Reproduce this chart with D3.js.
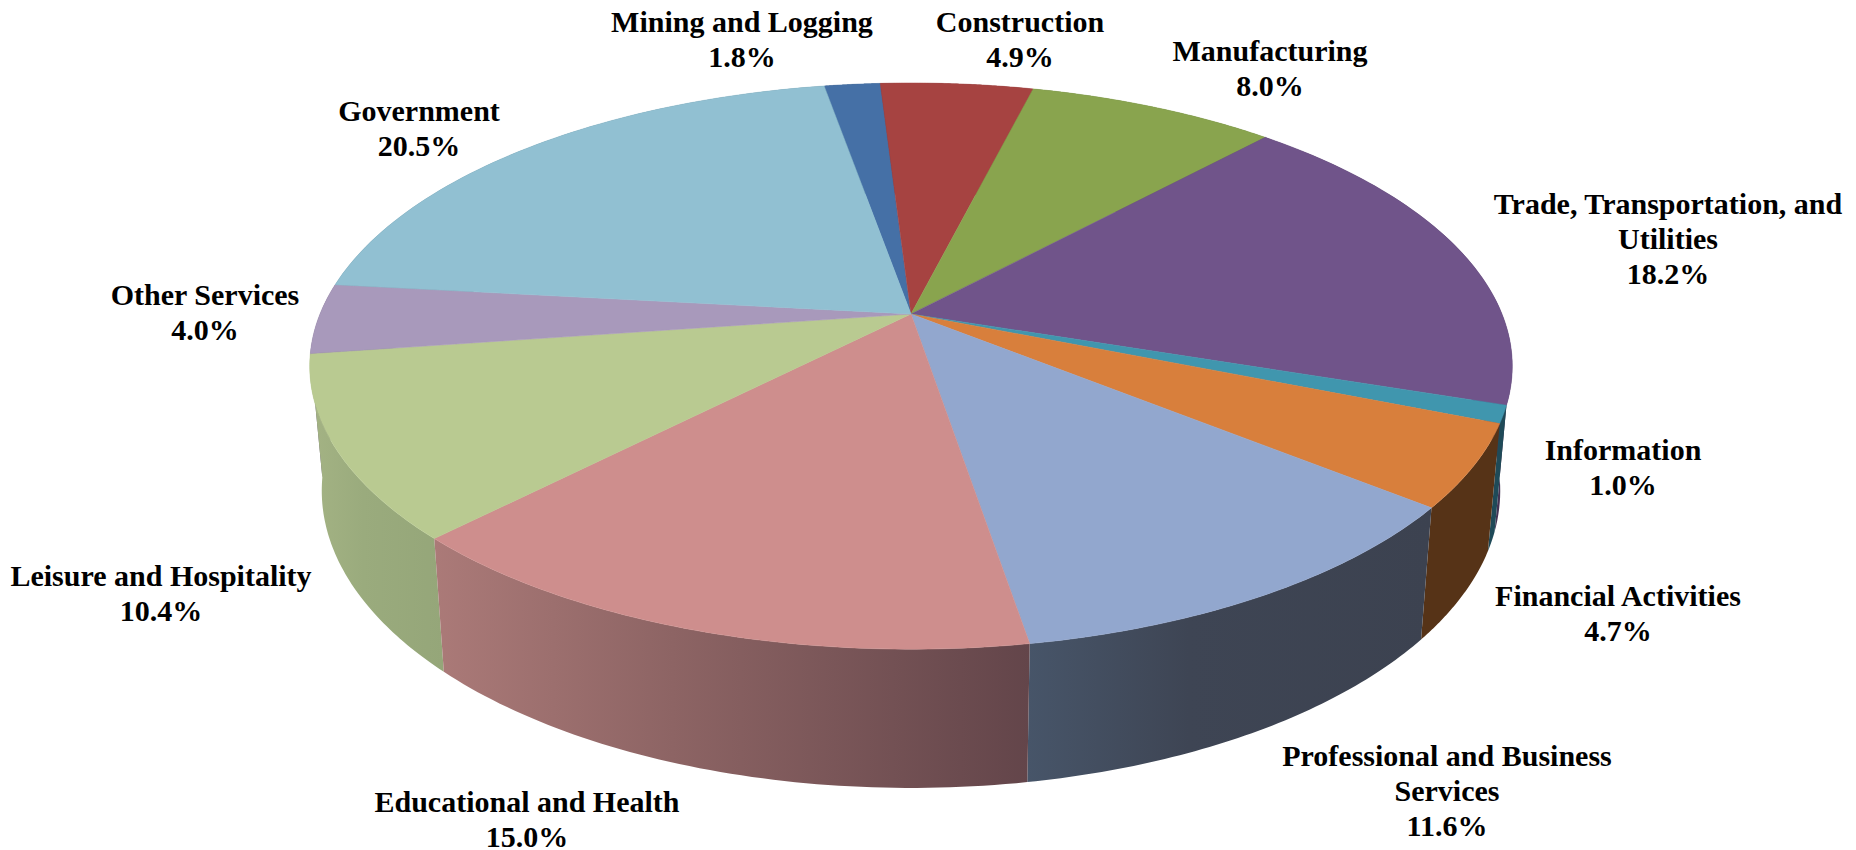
<!DOCTYPE html>
<html>
<head>
<meta charset="utf-8">
<script src="https://d3js.org/d3.v7.min.js"></script>
<style>
  html, body { margin: 0; background: #fff; }
  svg { display: block; }
  .label { font-family: "Liberation Serif", serif; font-weight: bold; font-size: 30px; fill: #000; text-anchor: middle; }
</style>
</head>
<body>
<script>
  // values start at Mining and run clockwise
  const categories = ["Mining and Logging", "Construction", "Manufacturing", "Trade, Transportation, and Utilities",
    "Information", "Financial Activities", "Professional and Business Services", "Educational and Health",
    "Leisure and Hospitality", "Other Services", "Government"];
  const shares = [1.8, 4.9, 8.0, 18.2, 1.0, 4.7, 11.6, 15.0, 10.4, 4.0, 20.5];
  const topColors = ["#4570a6", "#a64341", "#89a44e", "#70548a", "#4096ae", "#d87f3c",
    "#92a7ce", "#ce8e8d", "#b9ca91", "#a899bb", "#91c0d2"];
  // wall shading: left, 40% along, right
  const wallLeft = ["#2a4465", "#652928", "#536431", "#443354", "#1f4a58", "#563317",
    "#475569", "#ab7a78", "#a4b384", "#6a6076", "#5b7985"];
  const wallMid = ["#2a4465", "#652928", "#536431", "#443354", "#1f4a58", "#563317",
    "#3e4554", "#8d6464", "#9aab7d", "#6a6076", "#5b7985"];
  const wallRight = ["#2a4465", "#652928", "#536431", "#443354", "#1f4a58", "#563317",
    "#3c4250", "#63454a", "#95a679", "#6a6076", "#5b7985"];

  // line breaks of the labels
  const labelLines = [["Mining and Logging"], ["Construction"], ["Manufacturing"],
    ["Trade, Transportation, and", "Utilities"], ["Information"], ["Financial Activities"],
    ["Professional and Business", "Services"], ["Educational and Health"],
    ["Leisure and Hospitality"], ["Other Services"], ["Government"]];

  // label placement: centre x, first baseline y
  const labelAnchors = [[742, 32], [1020, 32], [1270, 61], [1668, 214], [1623, 460], [1618, 606],
    [1447, 766], [527, 812], [161, 586], [205, 305], [419, 121]];

  const width = 1856, height = 850;

  // perspective of the disc
  const apex = {x: 911, y: 314};
  const persp = 0.184;
  const firstAngle = -10 * Math.PI / 180;

  const xScale = d3.scaleLinear().domain([-1, 1]).range([apex.x - 591, apex.x + 591]);
  const yScale = d3.scaleLinear().domain([-1, 1]).range([apex.y + 273.5, apex.y - 273.5]);

  function topPoint(a) {
    const w = 1 + persp * Math.cos(a);
    return [xScale(Math.sin(a) / w), yScale(Math.cos(a) / w)];
  }
  // lower rim is a bit narrower and stretched, seen from above
  function bottomPoint(a) {
    const p = topPoint(a);
    return [apex.x + 0.98 * (p[0] - apex.x), 436 + 1.05 * (p[1] - apex.y)];
  }

  const pie = d3.pie().sort(null).value(d => d.share)
    .startAngle(firstAngle).endAngle(firstAngle + 2 * Math.PI);

  const slices = pie(categories.map((name, i) => ({name, share: shares[i], i})));

  const line = d3.line();
  const arcAngles = d => d3.range(0, 61).map(k => d.startAngle + (d.endAngle - d.startAngle) * k / 60);

  const svg = d3.select("body").append("svg")
    .attr("width", width)
    .attr("height", height);

  const defs = svg.append("defs");

  // walls first, far ones first
  const walls = slices.slice().sort((a, b) =>
    d3.descending(Math.cos((a.startAngle + a.endAngle) / 2), Math.cos((b.startAngle + b.endAngle) / 2)));

  walls.forEach(d => {
    const angles = arcAngles(d);
    const tops = angles.map(topPoint);
    const bottoms = angles.map(bottomPoint);
    const xs = tops.concat(bottoms).map(p => p[0]);

    const grad = defs.append("linearGradient")
      .attr("id", "wall" + d.data.i)
      .attr("gradientUnits", "userSpaceOnUse")
      .attr("x1", d3.min(xs)).attr("x2", d3.max(xs))
      .attr("y1", 0).attr("y2", 0);
    grad.append("stop").attr("offset", 0).attr("stop-color", wallLeft[d.data.i]);
    grad.append("stop").attr("offset", 0.4).attr("stop-color", wallMid[d.data.i]);
    grad.append("stop").attr("offset", 1).attr("stop-color", wallRight[d.data.i]);

    svg.append("path")
      .attr("d", line(tops.concat(bottoms.reverse())) + "Z")
      .attr("fill", "url(#wall" + d.data.i + ")");
  });

  // top of the pie
  svg.append("g").selectAll("path")
    .data(slices)
    .join("path")
    .attr("d", d => line([[apex.x, apex.y]].concat(arcAngles(d).map(topPoint))) + "Z")
    .attr("fill", d => topColors[d.data.i])
    .attr("stroke", d => topColors[d.data.i])
    .attr("stroke-width", 0.5);

  // labels
  const labels = svg.append("g").selectAll("text")
    .data(slices)
    .join("text")
    .attr("class", "label")
    .attr("x", d => labelAnchors[d.data.i][0])
    .attr("y", d => labelAnchors[d.data.i][1]);

  labels.each(function(d) {
    const text = d3.select(this);
    const rows = labelLines[d.data.i].concat([d.data.share.toFixed(1) + "%"]);
    rows.forEach((row, k) => {
      text.append("tspan")
        .attr("x", labelAnchors[d.data.i][0])
        .attr("dy", k ? 35 : 0)
        .text(row);
    });
  });
</script>
</body>
</html>
